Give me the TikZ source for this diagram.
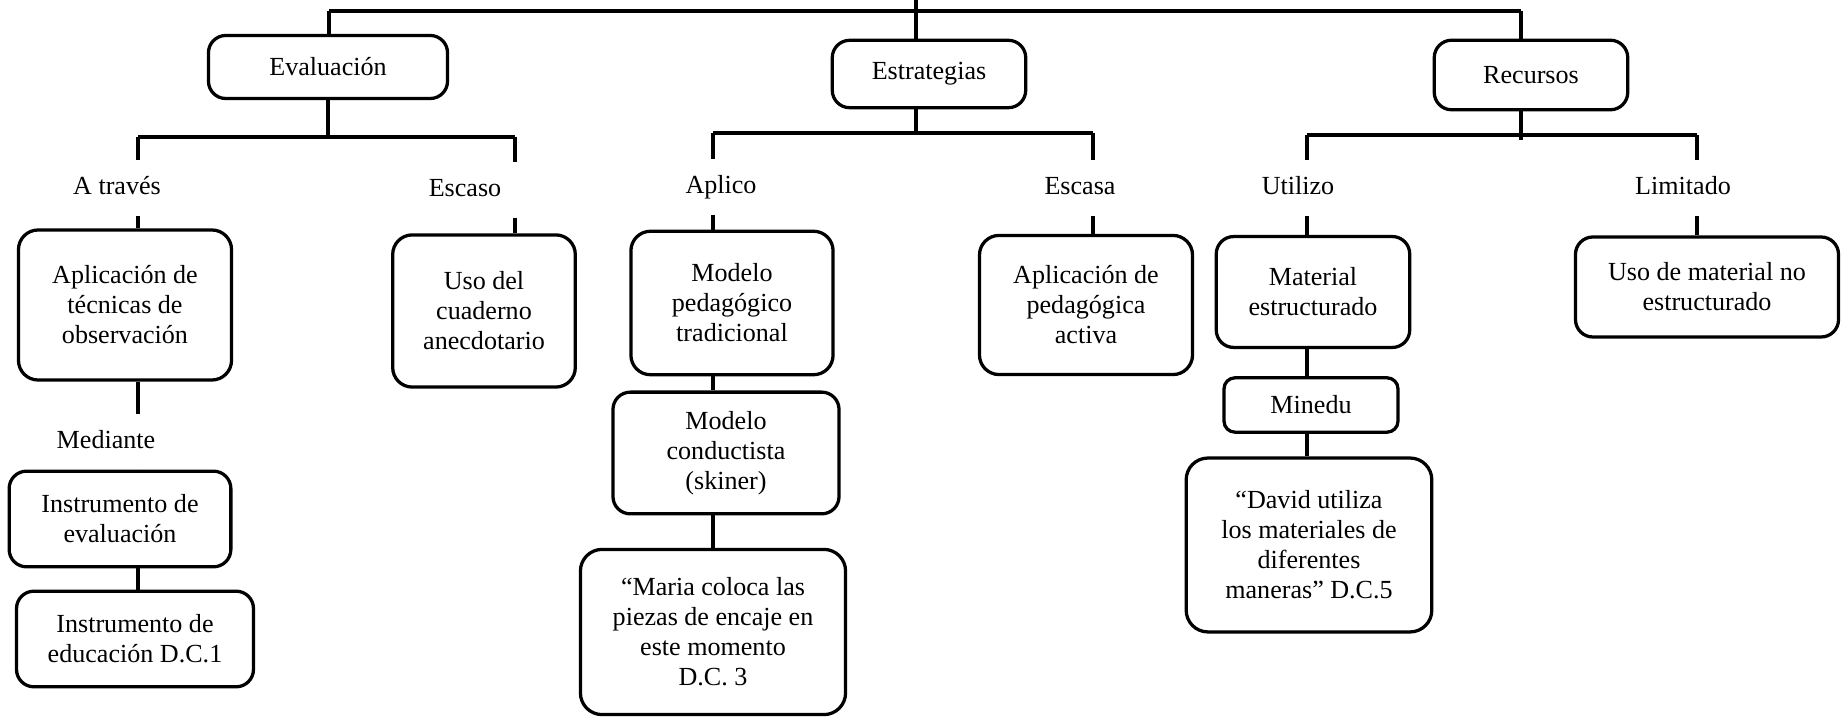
\documentclass[tikz,border=0pt]{standalone}
\usepackage{fontspec}
\setmainfont{Liberation Serif}
\begin{document}
\begin{tikzpicture}[x=0.46pt, y=-0.46pt, line width=1.5pt,
  box/.style={draw, rounded corners=8pt, align=center, inner sep=2pt, font=\fontsize{12pt}{13.8pt}\selectfont},
  lbl/.style={inner xsep=2pt, inner ysep=6pt, text height=9pt, text depth=3pt, font=\fontsize{12pt}{13.8pt}\selectfont}]
\useasboundingbox (0,0) rectangle (1842,717);
% main boxes
\node[box, minimum width=110pt, minimum height=29pt] (eval) at (328,67) {Evaluación};
\node[box, minimum width=89pt, minimum height=31pt] (estr) at (929,74) {Estrategias};
\node[box, minimum width=89pt, minimum height=32pt] (recu) at (1531,75) {Recursos};
% labels
\node[lbl] (atraves) at (117,188) {A través};
\node[lbl] (escaso) at (465,190) {Escaso};
\node[lbl] (aplico) at (721,187) {Aplico};
\node[lbl] (escasa) at (1080,188) {Escasa};
\node[lbl] (utilizo) at (1298,188) {Utilizo};
\node[lbl] (limitado) at (1683,188) {Limitado};
\node[lbl] (mediante) at (106,442) {Mediante};
% second level
\node[box, rounded corners=9pt, minimum width=98pt, minimum height=69pt] (aplobs) at (125,305) {Aplicación de\\técnicas de\\observación};
\node[box, rounded corners=9pt, minimum width=84pt, minimum height=70pt] (cuad) at (484,311) {Uso del\\cuaderno\\anecdotario};
\node[box, rounded corners=9pt, minimum width=93pt, minimum height=66pt] (tradi) at (732,303) {Modelo\\pedagógico\\tradicional};
\node[box, rounded corners=9pt, minimum width=98pt, minimum height=64pt] (activa) at (1086,305) {Aplicación de\\pedagógica\\activa};
\node[box, minimum width=89pt, minimum height=51pt] (matest) at (1313,292) {Material\\estructurado};
\node[box, minimum width=121pt, minimum height=46pt] (noest) at (1707,287) {Uso de material no\\estructurado};
% lower boxes
\node[box, minimum width=102pt, minimum height=44pt] (insteval) at (120,519) {Instrumento de\\evaluación};
\node[box, minimum width=109pt, minimum height=44pt] (insteduc) at (135,639) {Instrumento de\\educación D.C.1};
\node[box, minimum width=104pt, minimum height=56pt] (conduc) at (726,453) {Modelo\\conductista\\(skiner)};
\node[box, rounded corners=10pt, minimum width=122pt, minimum height=76pt] (maria) at (713,632) {“Maria coloca las\\piezas de encaje en\\este momento\\D.C. 3};
\node[box, rounded corners=5pt, minimum width=80pt, minimum height=25pt] (minedu) at (1311,405) {Minedu};
\node[box, rounded corners=10pt, minimum width=113pt, minimum height=80pt] (david) at (1309,545) {“David utiliza\\los materiales de\\diferentes\\maneras” D.C.5};
% branch points
\coordinate (top) at (916,0);
\coordinate (topL) at (329,11);
\coordinate (topR) at (1521,11);
\coordinate (evL) at (138,137);
\coordinate (evR) at (515,137);
\coordinate (esL) at (713,133);
\coordinate (esR) at (1093,133);
\coordinate (reM) at (1521,140);
\coordinate (reL) at (1307,135);
\coordinate (reR) at (1697,135);
% top level
\draw (top) -- (top |- estr.north);
\draw (topL) -- (topR);
\draw (topL) -- (topL |- eval.north);
\draw (topR) -- (topR |- recu.north);
% Evaluacion
\draw (eval.south) -- (eval.south |- evL);
\draw (evL) -- (evR);
\draw (evL) -- (evL |- atraves.north);
\draw (evL |- atraves.south) -- (evL |- aplobs.north);
\draw (evL |- aplobs.south) -- (evL |- mediante.north);
\draw (evL |- mediante.south) -- (evL |- insteval.north);
\draw (evL |- insteval.south) -- (evL |- insteduc.north);
\draw (evR) -- (evR |- escaso.north);
\draw (evR |- escaso.south) -- (evR |- cuad.north);
% Estrategias
\draw (top |- estr.south) -- (top |- esL);
\draw (esL) -- (esR);
\draw (esL) -- (esL |- aplico.north);
\draw (esL |- aplico.south) -- (esL |- tradi.north);
\draw (esL |- tradi.south) -- (esL |- conduc.north);
\draw (esL |- conduc.south) -- (esL |- maria.north);
\draw (esR) -- (esR |- escasa.north);
\draw (esR |- escasa.south) -- (esR |- activa.north);
% Recursos
\draw (reM |- recu.south) -- (reM);
\draw (reL) -- (reR);
\draw (reL) -- (reL |- utilizo.north);
\draw (reL |- utilizo.south) -- (reL |- matest.north);
\draw (reL |- matest.south) -- (reL |- minedu.north);
\draw (reL |- minedu.south) -- (reL |- david.north);
\draw (reR) -- (reR |- limitado.north);
\draw (reR |- limitado.south) -- (reR |- noest.north);
\end{tikzpicture}
\end{document}
